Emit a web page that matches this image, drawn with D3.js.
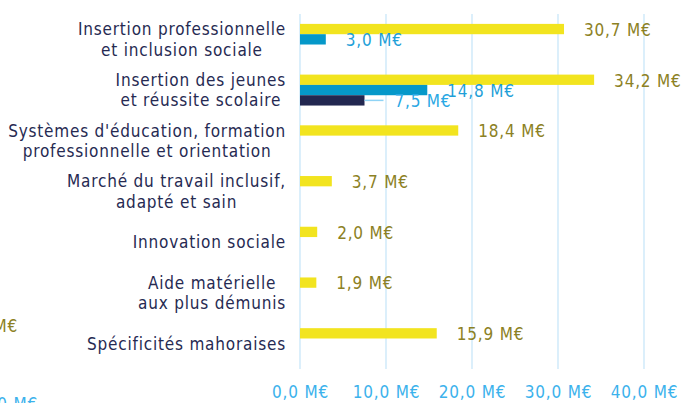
<!DOCTYPE html>
<html>
<head>
<meta charset="utf-8">
<script src="https://cdn.jsdelivr.net/npm/d3@7"></script>
<style>
  body { margin: 0; background: #fff; }
  svg { display: block; font-family: "DejaVu Sans Condensed", sans-serif; letter-spacing: 0.8px; }
</style>
</head>
<body>
<div id="graf"></div>
<script>
// Catégories (lignes de texte de chaque libellé)
categories = [
  ['Insertion professionnelle', 'et inclusion sociale'],
  ['Insertion des jeunes', 'et réussite scolaire'],
  ["Systèmes d'éducation, formation", 'professionnelle et orientation'],
  ['Marché du travail inclusif,', 'adapté et sain'],
  ['Innovation sociale'],
  ['Aide matérielle', 'aux plus démunis'],
  ['Spécificités mahoraises']
]
// Montants en M€
serieJaune = [30.7, 34.2, 18.4, 3.7, 2.0, 1.9, 15.9]
serieBleue = [3.0, 14.8, 0, 0, 0, 0, 0]
serieMarine = [0, 7.5, 0, 0, 0, 0, 0]
ticks = [0, 10, 20, 30, 40]

ancho_total = 683
alto_total = 403

series = [
  { nom: 'jaune', valores: serieJaune, color: '#f2e41f', texto: '#8c8124' },
  { nom: 'bleue', valores: serieBleue, color: '#0598c9', texto: '#1f9fd8' },
  { nom: 'marine', valores: serieMarine, color: '#222750', texto: '#2aa8e4' }
]

fr = d3.formatLocale({ decimal: ',', thousands: ' ', grouping: [3], currency: ['', '€'] })
fmt = v => fr.format('.1f')(v) + ' M€'

svg = d3.select('#graf').append('svg')
  .attr('width', ancho_total)
  .attr('height', alto_total)

x = d3.scaleLinear().domain([0, 40]).range([300, 644])
y = d3.scaleBand()
  .domain(d3.range(categories.length))
  .range([14, 369])
  .paddingInner(0.39)
  .paddingOuter(0.195)
ySub = d3.scaleBand()
  .domain(series.map(s => s.nom))
  .range([0, y.bandwidth()])

// Grille verticale
svg.append('g').selectAll('line')
  .data(ticks)
  .join('line')
  .attr('x1', d => x(d)).attr('x2', d => x(d))
  .attr('y1', 14).attr('y2', 369)
  .attr('stroke', '#d3ebfa')
  .attr('stroke-width', 1.6)

// Axe x
xAxis = svg.append('g')
  .attr('transform', 'translate(0, 392)')
  .call(d3.axisBottom(x).tickValues(ticks).tickFormat(fmt).tickSize(0).tickPadding(0))
xAxis.select('.domain').remove()
xAxis.selectAll('text')
  .attr('fill', '#3cb2ec')
  .attr('font-size', 17)
  .attr('font-family', '"DejaVu Sans Condensed", sans-serif')
  .attr('dy', '0.37em')

// Barres
series.forEach(s => {
  g = svg.append('g')
  g.selectAll('rect')
    .data(s.valores.map((v, i) => ({ v, i })).filter(d => d.v > 0))
    .join('rect')
    .attr('x', x(0))
    .attr('y', d => y(d.i) + ySub(s.nom))
    .attr('width', d => x(d.v) - x(0))
    .attr('height', ySub.bandwidth())
    .attr('fill', s.color)

  lbl = g.selectAll('text')
    .data(s.valores.map((v, i) => ({ v, i })).filter(d => d.v > 0))
    .join('text')
    .attr('y', d => y(d.i) + ySub(s.nom) + ySub.bandwidth() / 2)
    .attr('dy', '0.4em')
    .attr('font-size', 17)
    .attr('fill', s.texto)
    .text(d => fmt(d.v))

  if (s.nom === 'marine') {
    // étiquette déportée avec trait de rappel
    lbl.attr('x', d => x(d.v) + 30)
    g.selectAll('line')
      .data(s.valores.map((v, i) => ({ v, i })).filter(d => d.v > 0))
      .join('line')
      .attr('x1', d => x(d.v)).attr('x2', d => x(d.v) + 19)
      .attr('y1', d => y(d.i) + ySub(s.nom) + ySub.bandwidth() / 2)
      .attr('y2', d => y(d.i) + ySub(s.nom) + ySub.bandwidth() / 2)
      .attr('stroke', '#8fd3f5')
      .attr('stroke-width', 1.5)
  } else {
    lbl.attr('x', d => x(d.v) + 20)
  }
})

// Libellés des catégories (lignes centrées entre elles, bloc aligné à droite)
cat = svg.append('g')
categories.forEach((lignes, i) => {
  t = cat.append('text')
    .attr('font-size', 17)
    .attr('fill', '#262a52')
    .attr('text-anchor', 'middle')
  cy = y(i) + y.bandwidth() / 2
  lignes.forEach((l, k) => {
    t.append('tspan')
      .attr('x', 0)
      .attr('y', cy + (k - (lignes.length - 1) / 2) * 20.5)
      .attr('dy', '0.36em')
      .text(l)
  })
  w = t.node().getBBox().width
  t.selectAll('tspan').attr('x', 286 - w / 2)
})

// Restes d'un graphique voisin coupé à gauche
svg.append('text')
  .attr('x', 18).attr('y', 325).attr('dy', '0.4em')
  .attr('text-anchor', 'end')
  .attr('font-size', 17)
  .attr('fill', '#8c8124')
  .text('9,5 M€')
svg.append('text')
  .attr('x', 38).attr('y', 403).attr('dy', '0.4em')
  .attr('text-anchor', 'end')
  .attr('font-size', 17)
  .attr('fill', '#3cb2ec')
  .text('40,0 M€')
</script>
</body>
</html>
